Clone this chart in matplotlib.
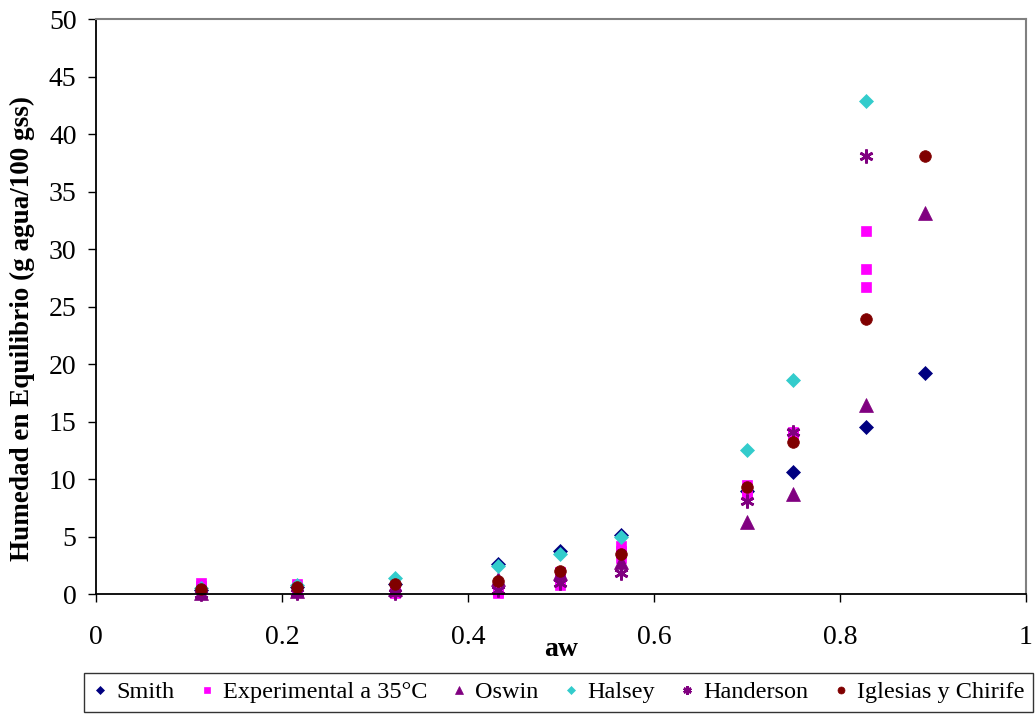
import numpy as np
import matplotlib
matplotlib.use("Agg")
import matplotlib.pyplot as plt

plt.rcParams['font.family'] = ['Liberation Serif', 'DejaVu Serif']

# Water activity of the saturated salt solutions
aw = [0.113, 0.216, 0.321, 0.432, 0.499, 0.565, 0.700, 0.749, 0.828, 0.891]

# Model predictions (g agua/100 gss)
smith = [0.35, 0.65, 0.85, 2.6, 3.75, 5.15, 9.0, 10.6, 14.5, 19.2]
oswin = [0.05, 0.25, 0.4, 1.3, 1.8, 2.8, 6.3, 8.7, 16.4, 33.1]
iglesias = [0.4, 0.65, 0.85, 1.15, 2.0, 3.45, 9.3, 13.25, 23.9, 38.1]
# Halsey and Handerson go off the scale at the last aw
awHal = aw[:9]
halsey = [0.55, 0.8, 1.35, 2.4, 3.5, 4.95, 12.55, 18.6, 42.9]
handerson = [0.0, 0.05, 0.1, 0.35, 0.95, 1.8, 8.1, 14.1, 38.1]

# Experimental data at 35 C, three replicates per salt
awExp = aw[:9]
exp1 = [0.95, 0.85, 0.6, 0.5, 1.9, 4.2, 9.45, 14.05, 31.6]
exp2 = [0.7, 0.6, 0.5, 0.2, 1.2, 3.7, 9.0, 13.8, 28.3]
exp3 = [0.45, 0.4, 0.1, 0.05, 0.75, 3.1, 8.65, 13.7, 26.7]

xTicks = [0, 0.2, 0.4, 0.6, 0.8, 1]
xTickLabels = ["0", "0.2", "0.4", "0.6", "0.8", "1"]
yTicks = list(range(0, 51, 5))

fig = plt.figure(figsize=(10.35, 7.15), dpi=100)
ax = fig.add_axes([0.0928, 0.1692, 0.8985, 0.8042])

common = dict(linestyle="none", clip_on=False)
ax.plot(aw, smith, marker="D", ms=7.3, color="#000080", mec="#000080", mew=0.5,
        label="Smith", **common)
expX = awExp * 3
expY = exp1 + exp2 + exp3
ax.plot(expX, expY, marker="s", ms=7.8, color="#FF00FF", mec="#FF00FF", mew=0.5,
        label="Experimental a 35°C", **common)
ax.plot(aw, oswin, marker="^", ms=9.5, color="#800080", mec="#800080", mew=0.5,
        label="Oswin", **common)
ax.plot(awHal, halsey, marker="D", ms=7.3, color="#33CCCC", mec="#33CCCC", mew=0.5,
        label="Halsey", **common)
ax.plot(awHal, handerson, marker=(6, 2, 0), ms=10, color="#800080", mec="#800080", mew=1.9,
        label="Handerson", **common)
ax.plot(aw, iglesias, marker="o", ms=8.4, color="#800000", mec="#800000", mew=0.5,
        label="Iglesias y Chirife", **common)

ax.set_xlim(0, 1)
ax.set_ylim(0, 50)
ax.set_xticks(xTicks)
ax.set_xticklabels(xTickLabels)
ax.set_yticks(yTicks)
ax.tick_params(axis="both", direction="out", length=6, width=1, labelsize=20)
ax.tick_params(axis="x", pad=16)
ax.tick_params(axis="y", pad=8)

for side in ["left", "bottom"]:
    ax.spines[side].set_color("black")
    ax.spines[side].set_linewidth(1.3)
for side in ["top", "right"]:
    ax.spines[side].set_color("#808080")
    ax.spines[side].set_linewidth(1.5)

ax.set_xlabel("aw", fontsize=20, fontweight="bold", labelpad=-9)
ax.set_ylabel("Humedad en Equilibrio (g agua/100 gss)", fontsize=19.5,
              fontweight="bold")
ax.yaxis.set_label_coords(-0.066, 0.461)

leg = fig.legend(loc="center", bbox_to_anchor=(0.5396, 0.032), ncol=6,
                 fontsize=17.5, frameon=True, fancybox=False, edgecolor="black",
                 handlelength=0.6, handletextpad=0.35, columnspacing=1.04,
                 borderpad=0.35, borderaxespad=0, markerscale=0.6)
leg.get_frame().set_linewidth(1.0)

fig.savefig("out.png", dpi=100)
